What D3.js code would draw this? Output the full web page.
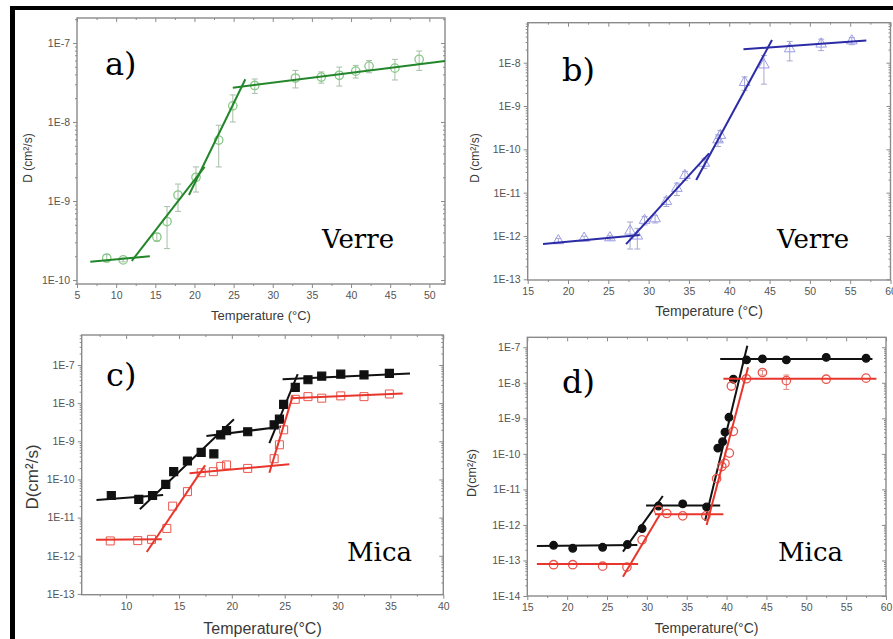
<!DOCTYPE html>
<html lang="fr">
<head>
<meta charset="utf-8">
<title>D vs Temperature</title>
<script src="https://d3js.org/d3.v7.min.js"></script>
<style>
  body { margin: 0; background: #fff; }
  svg { display: block; }
  .tick text { font-family: "Liberation Sans", Arial, sans-serif; fill: #555; }
  .tick line { stroke: #8a8a8a; }
  .axtitle { font-family: "Liberation Sans", Arial, sans-serif; fill: #3a3a3a; }
  .tag { font-family: "DejaVu Serif", serif; fill: #000; }
</style>
</head>
<body>
<script>
// ---- a) Verre, green circles ----
var tempA = [8.8, 10.9, 15.2, 16.5, 17.9, 20.2, 23.1, 24.9, 27.7, 32.9, 36.2, 38.5, 40.6, 42.3, 45.6, 48.7];
var dA    = [1.9e-10, 1.8e-10, 3.5e-10, 5.5e-10, 1.19e-9, 2.0e-9, 5.9e-9, 1.6e-8, 2.9e-8, 3.6e-8, 3.7e-8, 3.9e-8, 4.4e-8, 5.1e-8, 4.8e-8, 6.2e-8];
var errA  = [0.2e-10, 0.1e-10, 0.4e-10, 3e-10, 0.45e-9, 0.7e-9, 3.2e-9, 6e-9, 6e-9, 9e-9, 6e-9, 1.05e-8, 8e-9, 9e-9, 1.4e-8, 1.7e-8];
// fit segments: [T1, D1, T2, D2]
var fitA  = [[6.7, 1.7e-10, 14.3, 2.0e-10], [12.0, 1.75e-10, 21.3, 2.7e-9], [19.3, 1.19e-9, 26.5, 3.47e-8], [24.9, 2.72e-8, 52, 5.9e-8]];

// ---- b) Verre, blue triangles ----
var tempB = [18.8, 22.0, 25.2, 27.7, 28.6, 29.5, 30.8, 32.2, 33.5, 34.5, 36.9, 38.6, 38.9, 41.9, 44.3, 47.5, 51.4, 55.2];
var dB    = [7.8e-13, 8.9e-13, 9.1e-13, 1.3e-12, 1.0e-12, 2.3e-12, 2.5e-12, 6.3e-12, 1.26e-11, 2.5e-11, 4.8e-11, 1.66e-10, 2.1e-10, 3.5e-9, 8.9e-9, 2.1e-8, 2.7e-8, 3.2e-8];
var errB  = [1e-13, 1e-13, 1e-13, 0.8e-12, 0.5e-12, 0.5e-12, 0.5e-12, 1.5e-12, 4e-12, 6e-12, 1.2e-11, 5e-11, 6e-11, 1.2e-9, 5.7e-9, 1e-8, 8e-9, 6e-9];
var fitB  = [[16.9, 6.5e-13, 28.9, 1.05e-12], [27.2, 6.5e-13, 37.5, 8.1e-11], [35.9, 1.96e-11, 45.3, 3.33e-8], [41.76, 2.04e-8, 57.0, 3.24e-8]];

// ---- c) Mica, black filled squares / red open squares ----
var tempC1 = [8.6, 11.2, 12.5, 13.75, 14.5, 15.8, 17.1, 18.3, 18.95, 19.5, 21.5, 24.0, 24.5, 24.9, 26.0, 27.2, 28.5, 30.3, 32.5, 34.9];
var dC1    = [3.8e-11, 3.0e-11, 3.8e-11, 7.4e-11, 1.6e-10, 3.05e-10, 5.1e-10, 4.7e-10, 1.48e-9, 1.9e-9, 1.78e-9, 2.7e-9, 3.8e-9, 9.3e-9, 2.6e-8, 4.1e-8, 5.1e-8, 5.75e-8, 5.5e-8, 6.0e-8];
var tempC2 = [8.5, 11.1, 12.4, 13.85, 14.4, 15.8, 17.1, 18.25, 18.95, 19.5, 21.5, 24.0, 24.5, 24.9, 26.0, 27.2, 28.5, 30.3, 32.5, 34.9];
var dC2    = [2.45e-12, 2.5e-12, 2.7e-12, 5.2e-12, 2.0e-11, 4.8e-11, 1.5e-10, 1.6e-10, 2.2e-10, 2.4e-10, 1.95e-10, 3.5e-10, 8.1e-10, 2.0e-9, 1.26e-8, 1.48e-8, 1.35e-8, 1.55e-8, 1.48e-8, 1.74e-8];
var fitC1  = [[7.2, 2.9e-11, 13.5, 3.9e-11], [11.3, 1.66e-11, 20.2, 3.8e-9], [17.6, 1.38e-9, 24.65, 2.4e-9], [23.55, 8.9e-10, 26.23, 5.75e-8], [24.8, 4.2e-8, 36.85, 6.0e-8]];
var fitC2  = [[7.16, 2.63e-12, 13.37, 2.7e-12], [11.95, 1.26e-12, 17.47, 2.34e-10], [16.0, 1.45e-10, 25.44, 2.5e-10], [23.55, 1.5e-10, 25.76, 1.55e-8], [25.57, 1.35e-8, 36.16, 1.78e-8]];

// ---- d) Mica, black filled circles / red open circles ----
var tempD1 = [18.3, 20.7, 24.45, 27.55, 29.4, 31.45, 34.5, 37.5, 38.9, 39.5, 39.8, 40.3, 40.85, 42.5, 44.5, 47.5, 52.5, 57.5];
var dD1    = [2.67e-13, 2.2e-13, 2.35e-13, 2.8e-13, 7.9e-13, 3.4e-12, 3.9e-12, 3.2e-12, 1.45e-10, 2.2e-10, 4.1e-10, 1.07e-9, 1.26e-8, 4.4e-8, 4.7e-8, 4.4e-8, 5.2e-8, 4.9e-8];
var tempD2 = [18.3, 20.7, 24.45, 27.5, 29.4, 31.45, 32.5, 34.5, 37.4, 38.75, 39.4, 39.8, 40.35, 40.85, 40.6, 42.5, 44.5, 47.5, 52.5, 57.5];
var dD2    = [7.6e-14, 7.6e-14, 6.9e-14, 6.5e-14, 3.8e-13, 2.6e-12, 2.1e-12, 1.8e-12, 1.8e-12, 2.0e-11, 4.4e-11, 5.4e-11, 1.05e-10, 4.3e-10, 8.1e-9, 1.3e-8, 1.95e-8, 1.15e-8, 1.26e-8, 1.35e-8];
var errD2  = [0, 0, 0, 0, 0, 0, 0, 0, 0, 0, 0, 0, 0, 0, 0, 0, 3e-9, 5e-9, 0, 0];
var fitD1  = [[16.2, 2.57e-13, 28.8, 2.72e-13], [27.0, 1.78e-13, 32.0, 6.5e-12], [29.9, 3.5e-12, 39.2, 3.5e-12], [37.3, 1.32e-12, 42.6, 1.1e-7], [39.2, 4.7e-8, 58.3, 4.7e-8]];
var fitD2  = [[16.2, 7.9e-14, 28.9, 7.9e-14], [27.0, 3.5e-14, 31.65, 2.0e-12], [31.0, 2.0e-12, 39.6, 2.0e-12], [37.5, 1.0e-12, 42.7, 2.75e-8], [39.6, 1.29e-8, 58.8, 1.29e-8]];

var W = 893, H = 639;

var svg = d3.select("body").append("svg")
    .attr("width", W)
    .attr("height", H);

svg.append("rect").attr("width", W).attr("height", H).attr("fill", "#fff");

function drawPanel(p) {
  var x = d3.scaleLinear().domain(p.xDomain).range([p.left, p.right]);
  var y = d3.scaleLog().domain(p.yDomain).range([p.bottom, p.top]);
  var g = svg.append("g");

  // plot box
  g.append("rect")
    .attr("x", p.left).attr("y", p.top)
    .attr("width", p.right - p.left).attr("height", p.bottom - p.top)
    .attr("fill", "#fff")
    .attr("stroke", "#8a8a8a")
    .attr("stroke-width", 1.4);

  // log ticks: decades + 2..9 minor
  var lo = Math.ceil(Math.log10(p.yDomain[0]) - 1e-6);
  var hi = Math.floor(Math.log10(p.yDomain[1]) + 1e-6);
  var majors = d3.range(lo, hi + 1).map(function(e) { return Math.pow(10, e); });
  var minors = [];
  for (var e = lo - 1; e <= hi; e++) {
    for (var k = 2; k <= 9; k++) {
      var v = k * Math.pow(10, e);
      if (v > p.yDomain[0] && v < p.yDomain[1]) minors.push(v);
    }
  }
  var xMinor = [];
  for (var i = 0; i < p.xTicks.length; i++) {
    var m = p.xTicks[i] + p.xStep / 2;
    if (m > p.xDomain[0] && m < p.xDomain[1]) xMinor.push(m);
    var m2 = p.xTicks[i] - p.xStep / 2;
    if (i == 0 && m2 > p.xDomain[0]) xMinor.push(m2);
  }

  function clean(sel) { sel.select(".domain").remove(); }

  // bottom
  g.append("g").attr("transform", "translate(0," + p.bottom + ")")
    .call(d3.axisBottom(x).tickValues(p.xTicks).tickSize(4).tickPadding(4).tickFormat(d3.format("d")))
    .call(clean)
    .selectAll("text").style("font-size", p.tickFont + "px");
  g.append("g").attr("transform", "translate(0," + p.bottom + ")")
    .call(d3.axisBottom(x).tickValues(xMinor).tickSize(2).tickFormat(""))
    .call(clean);
  // top (inward)
  g.append("g").attr("transform", "translate(0," + p.top + ")")
    .call(d3.axisBottom(x).tickValues(p.xTicks).tickSize(4).tickFormat(""))
    .call(clean);
  g.append("g").attr("transform", "translate(0," + p.top + ")")
    .call(d3.axisBottom(x).tickValues(xMinor).tickSize(2).tickFormat(""))
    .call(clean);
  // left
  g.append("g").attr("transform", "translate(" + p.left + ",0)")
    .call(d3.axisLeft(y).tickValues(majors).tickSize(4).tickPadding(3)
      .tickFormat(function(d) { return "1E" + Math.round(Math.log10(d)); }))
    .call(clean)
    .selectAll("text").style("font-size", p.tickFont + "px");
  g.append("g").attr("transform", "translate(" + p.left + ",0)")
    .call(d3.axisLeft(y).tickValues(minors).tickSize(2).tickFormat(""))
    .call(clean);
  // right (inward)
  g.append("g").attr("transform", "translate(" + p.right + ",0)")
    .call(d3.axisLeft(y).tickValues(majors).tickSize(4).tickFormat(""))
    .call(clean);
  g.append("g").attr("transform", "translate(" + p.right + ",0)")
    .call(d3.axisLeft(y).tickValues(minors).tickSize(2).tickFormat(""))
    .call(clean);

  // axis titles
  g.append("text").attr("class", "axtitle")
    .attr("x", (p.left + p.right) / 2).attr("y", p.xTitleY)
    .attr("text-anchor", "middle")
    .style("font-size", p.xTitleFont + "px")
    .text(p.xTitle);
  g.append("text").attr("class", "axtitle")
    .attr("transform", "translate(" + p.yTitleX + "," + p.yTitleCy + ") rotate(-90)")
    .attr("text-anchor", "middle")
    .style("font-size", p.yTitleFont + "px")
    .text(p.yTitle);

  // series
  p.series.forEach(function(s) {
    var pts = s.t.map(function(t, i) { return {t: t, d: s.d[i], e: s.err ? s.err[i] : 0}; });

    // error bars
    var eb = pts.filter(function(d) { return d.e > 0; });
    var eg = g.append("g").attr("stroke", s.errColor || s.color).attr("stroke-width", 1);
    eg.selectAll("line.v").data(eb).enter().append("line")
      .attr("x1", function(d) { return x(d.t); }).attr("x2", function(d) { return x(d.t); })
      .attr("y1", function(d) { return y(d.d + d.e); })
      .attr("y2", function(d) { return y(Math.max(d.d - d.e, d.d * 0.05)); });
    eg.selectAll("line.top").data(eb).enter().append("line")
      .attr("x1", function(d) { return x(d.t) - 3; }).attr("x2", function(d) { return x(d.t) + 3; })
      .attr("y1", function(d) { return y(d.d + d.e); }).attr("y2", function(d) { return y(d.d + d.e); });
    eg.selectAll("line.bot").data(eb).enter().append("line")
      .attr("x1", function(d) { return x(d.t) - 3; }).attr("x2", function(d) { return x(d.t) + 3; })
      .attr("y1", function(d) { return y(Math.max(d.d - d.e, d.d * 0.05)); })
      .attr("y2", function(d) { return y(Math.max(d.d - d.e, d.d * 0.05)); });

    // markers
    if (s.shape == "circle") {
      g.selectAll(null).data(pts).enter().append("circle")
        .attr("cx", function(d) { return x(d.t); })
        .attr("cy", function(d) { return y(d.d); })
        .attr("r", s.size)
        .attr("fill", s.filled ? s.color : "none")
        .attr("stroke", s.color)
        .attr("stroke-width", 1.3);
    } else {
      var sym = d3.symbol()
        .type(s.shape == "square" ? d3.symbolSquare : d3.symbolTriangle)
        .size(s.size * s.size);
      g.selectAll(null).data(pts).enter().append("path")
        .attr("transform", function(d) { return "translate(" + x(d.t) + "," + y(d.d) + ")"; })
        .attr("d", sym)
        .attr("fill", s.filled ? s.color : "none")
        .attr("stroke", s.color)
        .attr("stroke-width", s.filled ? 1.2 : 1);
    }

    // fitted segments
    g.selectAll(null).data(s.fit).enter().append("line")
      .attr("x1", function(f) { return x(f[0]); })
      .attr("y1", function(f) { return y(f[1]); })
      .attr("x2", function(f) { return x(f[2]); })
      .attr("y2", function(f) { return y(f[3]); })
      .attr("stroke", s.lineColor)
      .attr("stroke-width", 2);
  });

  // panel letter and substrate name
  g.append("text").attr("class", "tag")
    .attr("x", p.tagX).attr("y", p.tagY)
    .style("font-size", "32px")
    .text(p.tag);
  g.append("text").attr("class", "tag")
    .attr("x", p.nameX).attr("y", p.nameY)
    .style("font-size", "26px")
    .text(p.name);
}

drawPanel({
  left: 77, right: 445, top: 18, bottom: 284,
  xDomain: [5, 52], yDomain: [Math.pow(10, -10.05), Math.pow(10, -6.684)],
  xTicks: d3.range(5, 51, 5), xStep: 5, tickFont: 10.5,
  xTitle: "Temperature (°C)", xTitleY: 320, xTitleFont: 13,
  yTitle: "D (cm²/s)", yTitleX: 32, yTitleCy: 158, yTitleFont: 12,
  tag: "a)", tagX: 105, tagY: 75, name: "Verre", nameX: 322, nameY: 248,
  series: [{t: tempA, d: dA, err: errA, fit: fitA, shape: "circle", size: 4.2, filled: false,
            color: "#86c886", errColor: "#a9bea9", lineColor: "#23862a"}]
});

drawPanel({
  left: 527.7, right: 890.5, top: 22.7, bottom: 280,
  xDomain: [15, 60], yDomain: [Math.pow(10, -13.016), Math.pow(10, -7.077)],
  xTicks: d3.range(15, 61, 5), xStep: 5, tickFont: 10.5,
  xTitle: "Temperature (°C)", xTitleY: 316, xTitleFont: 14,
  yTitle: "D (cm²/s)", yTitleX: 479, yTitleCy: 158, yTitleFont: 12,
  tag: "b)", tagX: 562, tagY: 81, name: "Verre", nameX: 777, nameY: 248,
  series: [{t: tempB, d: dB, err: errB, fit: fitB, shape: "triangle", size: 7, filled: false,
            color: "#9c9ce8", errColor: "#a8a8cf", lineColor: "#2b2ba6"}]
});

drawPanel({
  left: 81.7, right: 443.3, top: 335, bottom: 594.7,
  xDomain: [5.8, 40], yDomain: [Math.pow(10, -13.02), Math.pow(10, -6.214)],
  xTicks: d3.range(10, 41, 5), xStep: 5, tickFont: 10.5,
  xTitle: "Temperature(°C)", xTitleY: 634, xTitleFont: 16,
  yTitle: "D(cm²/s)", yTitleX: 38, yTitleCy: 477, yTitleFont: 17,
  tag: "c)", tagX: 106, tagY: 386, name: "Mica", nameX: 347, nameY: 561,
  series: [
    {t: tempC1, d: dC1, fit: fitC1, shape: "square", size: 8, filled: true, color: "#111", lineColor: "#111"},
    {t: tempC2, d: dC2, fit: fitC2, shape: "square", size: 8, filled: false, color: "#e8574e", lineColor: "#e8362c"}
  ]
});

drawPanel({
  left: 527.3, right: 886, top: 337.3, bottom: 596,
  xDomain: [15, 60], yDomain: [1e-14, Math.pow(10, -6.72)],
  xTicks: d3.range(15, 61, 5), xStep: 5, tickFont: 10.5,
  xTitle: "Temperature(°C)", xTitleY: 633, xTitleFont: 14,
  yTitle: "D(cm²/s)", yTitleX: 476, yTitleCy: 473, yTitleFont: 12.5,
  tag: "d)", tagX: 562, tagY: 393, name: "Mica", nameX: 778, nameY: 561,
  series: [
    {t: tempD1, d: dD1, fit: fitD1, shape: "circle", size: 3.8, filled: true, color: "#111", lineColor: "#111"},
    {t: tempD2, d: dD2, err: errD2, fit: fitD2, shape: "circle", size: 4.2, filled: false, color: "#e8574e", errColor: "#e08a84", lineColor: "#e8362c"}
  ]
});

// black frame on top and left edges
svg.append("rect").attr("x", 10).attr("y", 6).attr("width", W - 10).attr("height", 4).attr("fill", "#000");
svg.append("rect").attr("x", 10).attr("y", 6).attr("width", 5).attr("height", H - 6).attr("fill", "#000");
</script>
</body>
</html>
